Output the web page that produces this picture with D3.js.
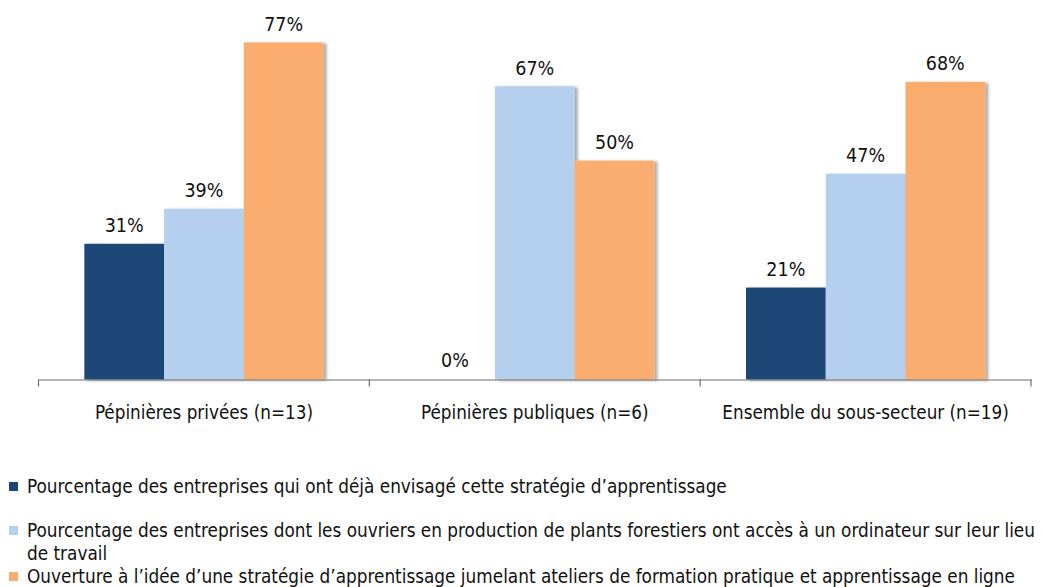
<!DOCTYPE html>
<html lang="fr">
<head>
<meta charset="utf-8">
<script src="https://cdn.jsdelivr.net/npm/d3@7"></script>
<style>
  html, body { margin: 0; padding: 0; background: #fff; }
  svg { display: block; font-family: "DejaVu Sans", Verdana, sans-serif; font-stretch: condensed; }
</style>
</head>
<body>
<svg id="chart" width="1047" height="587"></svg>
<script>
// Groupes d'entreprises (axe horizontal)
const categories = [
  "Pépinières privées (n=13)",
  "Pépinières publiques (n=6)",
  "Ensemble du sous-secteur (n=19)"
];

// Séries, en pourcentage
const seriesNames = [
  "Pourcentage des entreprises qui ont déjà envisagé cette stratégie d’apprentissage",
  "Pourcentage des entreprises dont les ouvriers en production de plants forestiers ont accès à un ordinateur sur leur lieu de travail",
  "Ouverture à l’idée d’une stratégie d’apprentissage jumelant ateliers de formation pratique et apprentissage en ligne"
];
const envisage = [31, 0, 21];
const ordinateur = [39, 67, 47];
const ouverture = [77, 50, 68];
const seriesValues = [envisage, ordinateur, ouverture];

const colors = ["#1D4677", "#B4D0EE", "#FBAD70"];

const svg = d3.select("#chart");

// Ombre portée des barres
const defs = svg.append("defs");
const f = defs.append("filter").attr("id", "shadow")
  .attr("x", "-10%").attr("y", "-10%").attr("width", "130%").attr("height", "130%");
f.append("feDropShadow").attr("dx", 3).attr("dy", 1).attr("stdDeviation", 1.6)
  .attr("flood-color", "#000").attr("flood-opacity", 0.35);

const baseY = 379.5;
const x0 = d3.scaleBand().domain(categories).range([38.5, 1031]).paddingInner(0).paddingOuter(0);
const x1 = d3.scaleBand().domain(d3.range(seriesNames.length))
  .range([0, x0.bandwidth()]).paddingInner(0).paddingOuter(0.575);
const y = d3.scaleLinear().domain([0, 80]).range([baseY, baseY - 350.2]);

const data = [];
categories.forEach((c, ci) => {
  seriesValues.forEach((vals, si) => data.push({ cat: c, s: si, v: vals[ci] }));
});

// Barres
svg.append("g").selectAll("rect")
  .data(data.filter(d => d.v > 0))
  .join("rect")
  .attr("x", d => x0(d.cat) + x1(d.s))
  .attr("y", d => y(d.v))
  .attr("width", x1.bandwidth())
  .attr("height", d => y(0) - y(d.v))
  .attr("fill", d => colors[d.s])
  .attr("filter", "url(#shadow)");

// Étiquettes de valeur
svg.append("g").selectAll("text")
  .data(data)
  .join("text")
  .attr("x", d => x0(d.cat) + x1(d.s) + x1.bandwidth() / 2)
  .attr("y", d => y(d.v) - (d.v === 0 ? 13 : 11.5))
  .attr("text-anchor", "middle")
  .attr("font-size", 19.5)
  .attr("fill", "#111")
  .text(d => d.v + "%");

// Axe horizontal
const axis = svg.append("g").attr("transform", `translate(0,${baseY})`)
  .call(d3.axisBottom(x0).tickSize(0).tickPadding(26).tickSizeOuter(0));
axis.select(".domain").attr("stroke", "#6e6e6e").attr("stroke-width", 1.2);
axis.selectAll(".tick text")
  .attr("font-family", "DejaVu Sans, Verdana, sans-serif")
  .attr("font-size", 18.7)
  .attr("fill", "#111");

// Graduations entre les groupes
const bounds = categories.map(c => x0(c)).concat([x0.range()[1]]);
axis.selectAll("line.sep").data(bounds).join("line")
  .attr("class", "sep")
  .attr("x1", d => d).attr("x2", d => d)
  .attr("y1", 0).attr("y2", 7)
  .attr("stroke", "#6e6e6e").attr("stroke-width", 1.2);

// Légende
const legendRows = [
  { lines: [seriesNames[0]], y: 493 },
  { lines: ["Pourcentage des entreprises dont les ouvriers en production de plants forestiers ont accès à un ordinateur sur leur lieu", "de travail"], y: 537 },
  { lines: [seriesNames[2]], y: 583 }
];
const legend = svg.append("g");
legendRows.forEach((r, i) => {
  legend.append("rect")
    .attr("x", 9).attr("y", r.y - 11).attr("width", 9).attr("height", 9)
    .attr("fill", colors[i]);
  const t = legend.append("text")
    .attr("x", 27).attr("y", r.y)
    .attr("font-size", 18.8)
    .attr("fill", "#111");
  r.lines.forEach((ln, li) => {
    t.append("tspan").attr("x", 27).attr("dy", li === 0 ? 0 : 23).text(ln);
  });
});
</script>
</body>
</html>
